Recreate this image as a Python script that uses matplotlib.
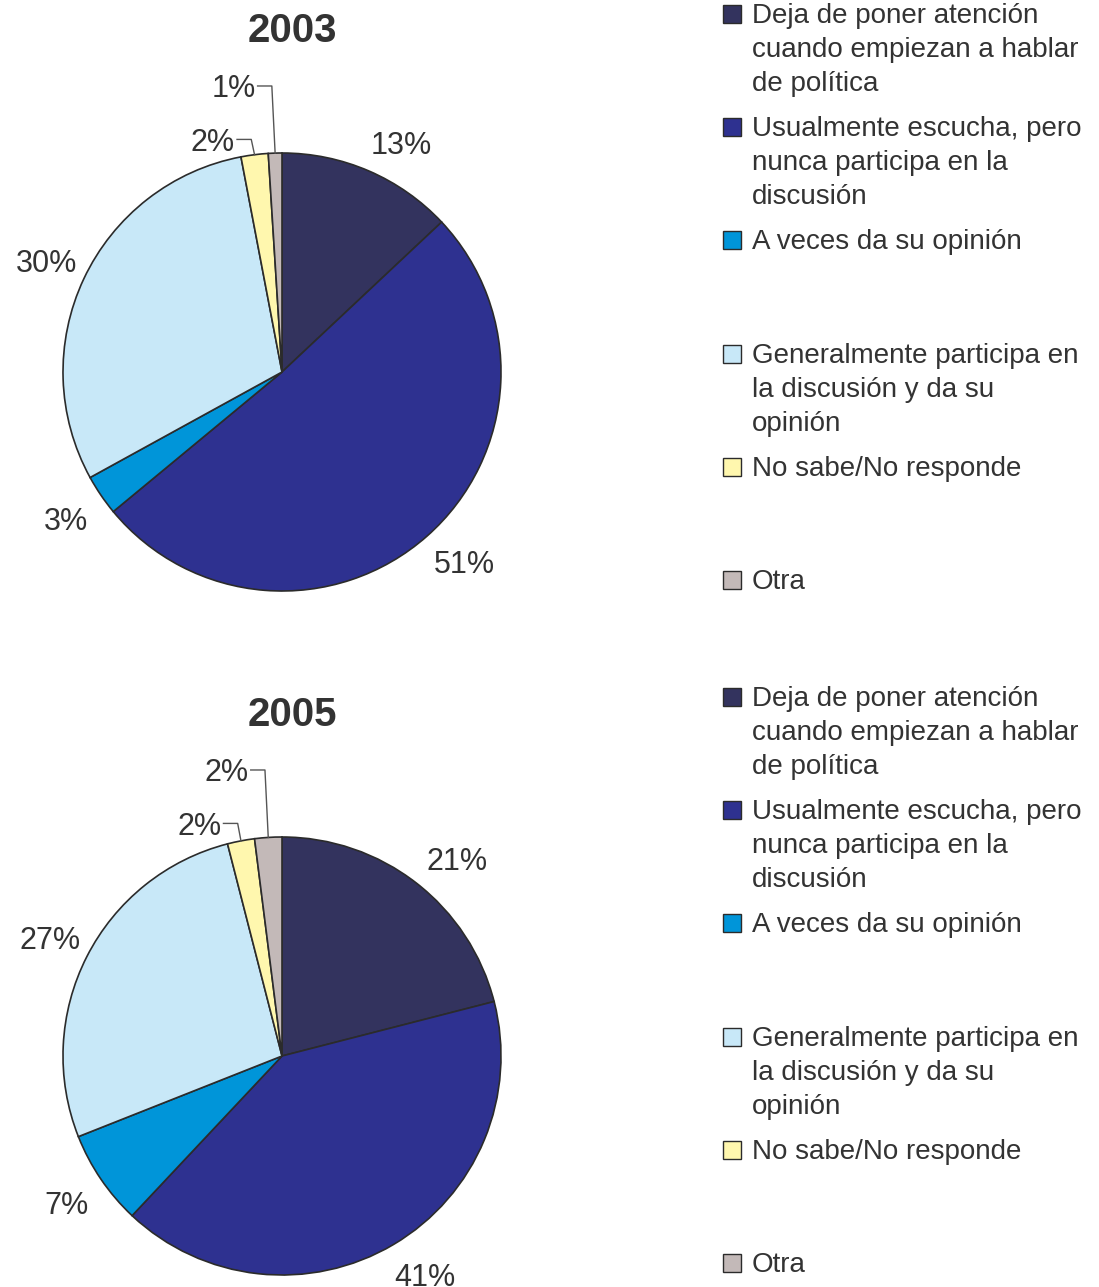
import numpy as np
import matplotlib
matplotlib.use("Agg")
import matplotlib.pyplot as plt
from matplotlib.patches import Rectangle

plt.rcParams['font.family'] = ['Liberation Sans', 'DejaVu Sans']

# categorias (orden del grafico, empezando arriba y en sentido horario)
categorias = ["Deja de poner atención\ncuando empiezan a hablar\nde política",
              "Usualmente escucha, pero\nnunca participa en la\ndiscusión",
              "A veces da su opinión",
              "Generalmente participa en\nla discusión y da su\nopinión",
              "No sabe/No responde",
              "Otra"]
colores = ["#33335e", "#2e3190", "#0095d9", "#c8e8f8", "#fff7ae", "#c3b9b8"]

anios = ["2003", "2005"]
valores_2003 = [13, 51, 3, 30, 2, 1]
valores_2005 = [21, 41, 7, 27, 2, 2]
series = [valores_2003, valores_2005]

W, H = 1099, 1287
R = 219.0  # radio en pixeles
txt = "#333333"

fig = plt.figure(figsize=(W / 100, H / 100), dpi=100)

# (centro x, centro y, top del eje, bottom del eje, y titulo, y leyenda) en pixeles desde arriba
paneles = [(282, 372, 0, 640, 31, 14), (282, 1056, 643, 1287, 715, 697)]
ax_w = 640

for k, (cx, cy, top, bot, yt, y0) in enumerate(paneles):
    ax = fig.add_axes([0, 1 - bot / H, ax_w / W, (bot - top) / H])
    vals = series[k]
    wedges, _ = ax.pie(vals, colors=colores, startangle=90, counterclock=False,
                       wedgeprops=dict(edgecolor="#2b2b2b", linewidth=1.2))
    ax.set_aspect('auto')
    ax.set_xlim(-cx / R, (ax_w - cx) / R)
    ax.set_ylim(-(bot - cy) / R, (cy - top) / R)
    ax.axis('off')

    niveles = {5: 1.306, 4: 1.062}
    for i, w in enumerate(wedges):
        ang = np.deg2rad((w.theta1 + w.theta2) / 2)
        etiqueta = f"{vals[i]}%"
        if i in niveles:
            xe, ye = np.cos(ang), np.sin(ang)
            xk = xe - 0.015
            yl = niveles[i]
            ax.plot([xe, xk, xk - 0.065], [ye, yl, yl], color="#555555", lw=1.0)
            ax.text(xk - 0.075, yl - 0.015, etiqueta, ha='right', va='center',
                    fontsize=22, color=txt)
        else:
            lx, ly = 1.19 * np.cos(ang), 1.19 * np.sin(ang)
            if lx > 0 and ly > 0:
                lx += 0.07
                ly -= 0.05 * np.sin(ang) + 0.015
            elif lx > 0:
                lx += 0.045
                ly += 0.01
            else:
                ly -= 0.015
            ax.text(lx, ly, etiqueta, ha='center', va='center',
                    fontsize=22, color=txt)

    fig.text(292 / W, 1 - yt / H, anios[k], ha='center', va='center',
             fontsize=29, fontweight='bold', color=txt)

    # leyenda
    for i, cat in enumerate(categorias):
        yc = y0 + i * 113.2
        fig.patches.append(Rectangle((723 / W, 1 - (yc + 9) / H), 18 / W, 18 / H,
                                     transform=fig.transFigure, facecolor=colores[i],
                                     edgecolor="#2b2b2b", linewidth=1.0))
        fig.text(752 / W, 1 - (yc - 11) / H, cat, ha='left', va='top',
                 fontsize=20, color=txt, linespacing=1.4)

fig.savefig("out.png", dpi=100)
